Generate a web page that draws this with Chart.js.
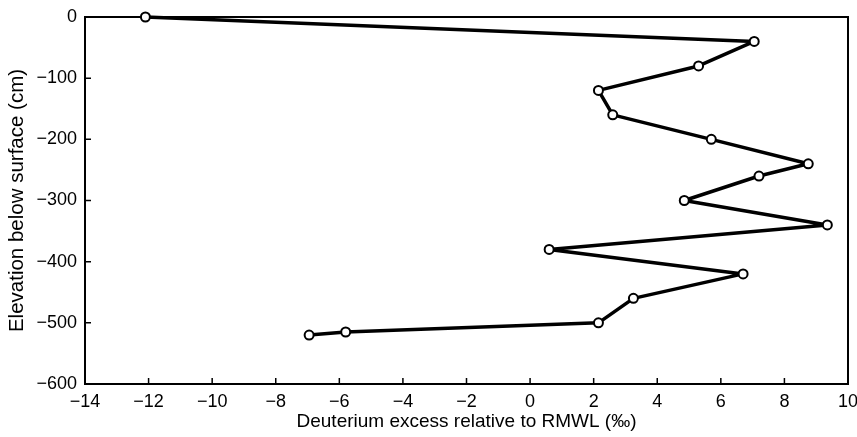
<!DOCTYPE html>
<html>
<head>
<meta charset="utf-8">
<script src="https://cdn.jsdelivr.net/npm/chart.js@4"></script>
<style>
  html, body { margin: 0; padding: 0; background: #fff; }
  #wrap { width: 857px; height: 437px; }
</style>
</head>
<body>
<div id="wrap"><canvas id="profileChart"></canvas></div>
<script>
const deuteriumExcess = [-12.1, 7.05, 5.3, 2.15, 2.6, 5.7, 8.75, 7.2, 4.85, 9.35, 0.6, 6.7, 3.25, 2.15, -5.8, -6.95];
const elevation = [0, -40, -80, -120, -160, -200, -240, -260, -300, -340, -380, -420, -460, -500, -515, -520];
const xTicks = [-14, -12, -10, -8, -6, -4, -2, 0, 2, 4, 6, 8, 10];
const yTicks = [0, -100, -200, -300, -400, -500, -600];

const points = deuteriumExcess.map((x, i) => ({ x: x, y: elevation[i] }));
const minus = v => String(v).replace('-', '\u2212');

// Marco completo y marcas de escala hacia dentro
const framePlugin = {
  id: 'frame',
  beforeDatasetsDraw(chart) {
    const { ctx, chartArea: a, scales } = chart;
    ctx.save();
    ctx.strokeStyle = '#000';
    ctx.lineWidth = 2;
    ctx.strokeRect(a.left, a.top, a.right - a.left, a.bottom - a.top);
    ctx.lineWidth = 1.5;
    ctx.beginPath();
    xTicks.forEach(v => {
      const px = scales.x.getPixelForValue(v);
      ctx.moveTo(px, a.bottom);
      ctx.lineTo(px, a.bottom - 6);
    });
    yTicks.forEach(v => {
      const py = scales.y.getPixelForValue(v);
      ctx.moveTo(a.left, py);
      ctx.lineTo(a.left + 6, py);
    });
    ctx.stroke();
    ctx.restore();
  }
};

const family = '"Liberation Sans", Arial, sans-serif';
const tickFont = { family: family, size: 18 };

new Chart(document.getElementById('profileChart'), {
  type: 'scatter',
  data: {
    datasets: [{
      data: points,
      showLine: true,
      borderColor: '#000',
      borderWidth: 3.5,
      borderJoinStyle: 'round',
      pointRadius: 4.5,
      pointBackgroundColor: '#fff',
      pointBorderColor: '#000',
      pointBorderWidth: 2,
      clip: false
    }]
  },
  options: {
    responsive: true,
    maintainAspectRatio: false,
    animation: false,
    layout: { padding: { top: 17, right: 9, left: 0, bottom: 0 } },
    plugins: { legend: { display: false }, tooltip: { enabled: false } },
    scales: {
      x: {
        type: 'linear',
        min: -14,
        max: 10,
        afterBuildTicks: s => { s.ticks = xTicks.map(v => ({ value: v })); },
        afterFit: s => { s.height = 53; s.paddingLeft = 0; s.paddingRight = 0; },
        grid: { display: false, drawTicks: false, tickLength: 0 },
        border: { display: false },
        ticks: { color: '#000', font: tickFont, padding: 7, maxRotation: 0, callback: v => minus(v) },
        title: { display: true, text: 'Deuterium excess relative to RMWL (‰)', color: '#000', font: { family: family, size: 19 }, padding: { top: 0, bottom: 4 } }
      },
      y: {
        type: 'linear',
        min: -600,
        max: 0,
        afterBuildTicks: s => { s.ticks = yTicks.map(v => ({ value: v })); },
        afterFit: s => { s.width = 85; s.paddingTop = 0; s.paddingBottom = 0; },
        grid: { display: false, drawTicks: false, tickLength: 0 },
        border: { display: false },
        ticks: { color: '#000', font: tickFont, padding: 8, callback: v => minus(v) },
        title: { display: true, text: 'Elevation below surface (cm)', color: '#000', font: { family: family, size: 20.5 }, padding: { top: 5, bottom: 4 } }
      }
    }
  },
  plugins: [framePlugin]
});
</script>
</body>
</html>
